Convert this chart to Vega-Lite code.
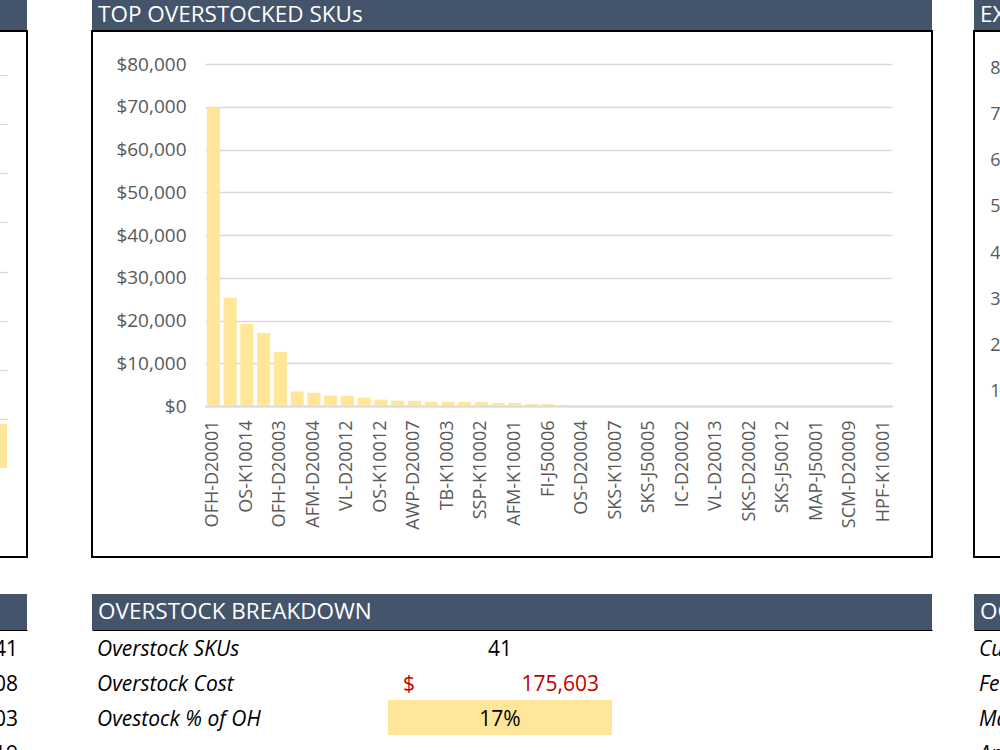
{
  "$schema": "https://vega.github.io/schema/vega-lite/v6.json",
  "background": "#FFFFFF",
  "padding": {"left": -174, "top": 0, "right": -72, "bottom": -20},
  "config": {
    "font": "Open Sans",
    "view": {"stroke": null},
    "axis": {"labelFont": "Open Sans", "labelFontSize": 18, "labelColor": "#595959", "title": null, "ticks": false, "tickSize": 0, "domain": false, "grid": false}
  },
  "spacing": 63,
  "hconcat": [
    {
      "spacing": 0,
      "vconcat": [
        {"width": 200, "height": 30, "view": {"fill": "#44546A", "stroke": null}, "data": {"values": []}, "mark": "text"},
        {
          "width": 200, "height": 526,
          "view": {"stroke": "#000000", "strokeWidth": 2},
          "data": {"values": [{"cat": "Q4", "units": 0.9}]},
          "mark": {"type": "bar", "color": "#FFE699"},
          "encoding": {
            "x": {"field": "cat", "type": "nominal", "axis": null, "scale": {"range": [160, 180], "paddingInner": 0, "paddingOuter": 0}},
            "y": {"field": "units", "type": "quantitative", "scale": {"domain": [0, 8], "range": [437, 44], "nice": false},
                  "axis": {"labels": false, "values": [1, 2, 3, 4, 5, 6, 7, 8], "grid": true, "gridColor": "#D9D9D9", "gridWidth": 1.3}}
          }
        },
        {"width": 200, "height": 36, "data": {"values": []}, "mark": "rect"},
        {"width": 200, "height": 36, "view": {"fill": "#44546A", "stroke": null}, "data": {"values": []}, "mark": "text"},
        {
          "width": 200, "height": 140,
          "data": {"values": [{"row": 1, "value": 241}, {"row": 2, "value": 1008}, {"row": 3, "value": 1003}, {"row": 4, "value": 19}]},
          "mark": {"type": "text", "align": "right", "baseline": "middle", "fontSize": 21, "color": "#000000", "dx": -9, "dy": 2},
          "encoding": {
            "x": {"datum": "value", "type": "nominal", "bandPosition": 1, "scale": {"type": "band", "domain": ["value"], "paddingInner": 0, "paddingOuter": 0},
                  "axis": {"orient": "top", "domain": true, "domainColor": "#000000", "domainWidth": 1, "labels": false}},
            "y": {"field": "row", "type": "ordinal", "scale": {"domain": [1, 2, 3, 4], "paddingInner": 0, "paddingOuter": 0}, "axis": null},
            "text": {"field": "value", "format": ","}
          }
        }
      ]
    },
    {
      "spacing": 40,
      "hconcat": [
        {
          "spacing": 0,
          "vconcat": [
            {
              "width": 840, "height": 30,
              "view": {"fill": "#44546A", "stroke": null},
              "data": {"values": [{"panel": "TOP OVERSTOCKED SKUs"}]},
              "mark": {"type": "text", "align": "left", "baseline": "middle", "dx": 6, "fontSize": 22.5, "color": "#FFFFFF"},
              "encoding": {
                "x": {"field": "panel", "type": "nominal", "bandPosition": 0, "axis": null, "scale": {"type": "band", "paddingInner": 0, "paddingOuter": 0}},
                "text": {"field": "panel"}
              }
            },
            {
              "width": 840, "height": 526,
              "view": {"stroke": "#000000", "strokeWidth": 2},
              "data": {"values": [
                {"sku": "OFH-D20001", "cost": 69850},
                {"sku": "OFH-D20002", "cost": 25300},
                {"sku": "OS-K10014", "cost": 19200},
                {"sku": "AFM-D20001", "cost": 17100},
                {"sku": "OFH-D20003", "cost": 12650},
                {"sku": "OS-K10003", "cost": 3400},
                {"sku": "AFM-D20004", "cost": 3100},
                {"sku": "VL-D20005", "cost": 2450},
                {"sku": "VL-D20012", "cost": 2400},
                {"sku": "TB-K10001", "cost": 1950},
                {"sku": "OS-K10012", "cost": 1500},
                {"sku": "SSP-K10004", "cost": 1250},
                {"sku": "AWP-D20007", "cost": 1200},
                {"sku": "FI-J50002", "cost": 950},
                {"sku": "TB-K10003", "cost": 950},
                {"sku": "AWP-D20003", "cost": 930},
                {"sku": "SSP-K10002", "cost": 900},
                {"sku": "OS-D20001", "cost": 720},
                {"sku": "AFM-K10001", "cost": 700},
                {"sku": "IC-D20005", "cost": 480},
                {"sku": "FI-J50006", "cost": 460},
                {"sku": "SKS-K10002", "cost": 260},
                {"sku": "OS-D20004", "cost": 230},
                {"sku": "MAP-J50003", "cost": 60},
                {"sku": "SKS-K10007", "cost": 45},
                {"sku": "VL-D20008", "cost": 38},
                {"sku": "SKS-J50005", "cost": 32},
                {"sku": "SCM-D20004", "cost": 28},
                {"sku": "IC-D20002", "cost": 24},
                {"sku": "HPF-K10004", "cost": 20},
                {"sku": "VL-D20013", "cost": 17},
                {"sku": "SKS-J50009", "cost": 14},
                {"sku": "SKS-D20002", "cost": 12},
                {"sku": "TB-K10006", "cost": 10},
                {"sku": "SKS-J50012", "cost": 8},
                {"sku": "FI-J50010", "cost": 6},
                {"sku": "MAP-J50001", "cost": 5},
                {"sku": "IC-D20007", "cost": 4},
                {"sku": "SCM-D20009", "cost": 3},
                {"sku": "OS-K10007", "cost": 2},
                {"sku": "HPF-K10001", "cost": 1}
              ]},
              "mark": {"type": "bar", "color": "#FFE699"},
              "encoding": {
                "x": {"field": "sku", "type": "nominal", "sort": null,
                      "scale": {"range": [113, 800], "paddingInner": 0.22, "paddingOuter": 0.11},
                      "axis": {"orient": "bottom", "offset": -151, "labelAngle": -90, "labelPadding": 14, "domain": true, "domainColor": "#D9D9D9", "domainWidth": 2,
                               "values": ["OFH-D20001", "OS-K10014", "OFH-D20003", "AFM-D20004", "VL-D20012", "OS-K10012", "AWP-D20007", "TB-K10003", "SSP-K10002", "AFM-K10001", "FI-J50006", "OS-D20004", "SKS-K10007", "SKS-J50005", "IC-D20002", "VL-D20013", "SKS-D20002", "SKS-J50012", "MAP-J50001", "SCM-D20009", "HPF-K10001"]}},
                "y": {"field": "cost", "type": "quantitative",
                      "scale": {"domain": [0, 80000], "range": [375, 33], "nice": false},
                      "axis": {"offset": -113, "labelPadding": 19, "labelFontSize": 19, "format": "$,.0f", "values": [0, 10000, 20000, 30000, 40000, 50000, 60000, 70000, 80000], "grid": true, "gridColor": "#D9D9D9", "gridWidth": 1.3}}
              }
            },
            {"width": 840, "height": 36, "data": {"values": []}, "mark": "rect"},
            {
              "width": 840, "height": 36,
              "view": {"fill": "#44546A", "stroke": null},
              "data": {"values": [{"panel": "OVERSTOCK BREAKDOWN"}]},
              "mark": {"type": "text", "align": "left", "baseline": "middle", "dx": 6, "fontSize": 22.5, "color": "#FFFFFF"},
              "encoding": {
                "x": {"field": "panel", "type": "nominal", "bandPosition": 0, "axis": null, "scale": {"type": "band", "paddingInner": 0, "paddingOuter": 0}},
                "text": {"field": "panel"}
              }
            },
            {
              "width": 840, "height": 140,
              "data": {"values": [
                {"row": 1, "metric": "Overstock SKUs", "value": 41},
                {"row": 2, "metric": "Overstock Cost", "value": 175603},
                {"row": 3, "metric": "Ovestock % of OH", "value": 0.17}
              ]},
              "encoding": {
                "y": {"field": "row", "type": "ordinal", "scale": {"domain": [1, 2, 3, 4], "paddingInner": 0, "paddingOuter": 0}, "axis": null}
              },
              "layer": [
                {
                  "transform": [{"filter": "datum.row == 3"}],
                  "mark": {"type": "bar", "color": "#FFE699"},
                  "encoding": {
                    "x": {"datum": "value", "type": "nominal",
                          "scale": {"type": "band", "domain": ["label", "value"], "paddingInner": 0, "paddingOuter": 0.875, "align": 0.18367},
                          "axis": {"orient": "top", "domain": true, "domainColor": "#000000", "domainWidth": 1, "labels": false}}
                  }
                },
                {
                  "mark": {"type": "text", "align": "left", "baseline": "middle", "fontSize": 21, "fontStyle": "italic", "color": "#000000", "dx": -67, "dy": 2},
                  "encoding": {
                    "x": {"datum": "label", "type": "nominal", "bandPosition": 0},
                    "text": {"field": "metric"}
                  }
                },
                {
                  "transform": [{"filter": "datum.row == 1"}],
                  "mark": {"type": "text", "align": "center", "baseline": "middle", "fontSize": 21, "color": "#000000", "dy": 2},
                  "encoding": {
                    "x": {"datum": "value", "type": "nominal", "bandPosition": 0.5},
                    "text": {"field": "value", "format": "d"}
                  }
                },
                {
                  "transform": [{"filter": "datum.row == 2"}],
                  "mark": {"type": "text", "align": "left", "baseline": "middle", "fontSize": 21, "color": "#C00000", "dx": 15, "dy": 2, "text": "$"},
                  "encoding": {
                    "x": {"datum": "value", "type": "nominal", "bandPosition": 0}
                  }
                },
                {
                  "transform": [{"filter": "datum.row == 2"}],
                  "mark": {"type": "text", "align": "right", "baseline": "middle", "fontSize": 21, "color": "#C00000", "dx": -13, "dy": 2},
                  "encoding": {
                    "x": {"datum": "value", "type": "nominal", "bandPosition": 1},
                    "text": {"field": "value", "format": ","}
                  }
                },
                {
                  "transform": [{"filter": "datum.row == 3"}],
                  "mark": {"type": "text", "align": "center", "baseline": "middle", "fontSize": 21, "color": "#000000", "dy": 2},
                  "encoding": {
                    "x": {"datum": "value", "type": "nominal", "bandPosition": 0.5},
                    "text": {"field": "value", "format": ".0%"}
                  }
                }
              ]
            }
          ]
        },
        {
          "spacing": 0,
          "vconcat": [
            {
              "width": 100, "height": 30,
              "view": {"fill": "#44546A", "stroke": null},
              "data": {"values": [{"panel": "EXCESS INVENTORY"}]},
              "mark": {"type": "text", "align": "left", "baseline": "middle", "dx": 6, "fontSize": 22.5, "color": "#FFFFFF"},
              "encoding": {
                "x": {"field": "panel", "type": "nominal", "bandPosition": 0, "axis": null, "scale": {"type": "band", "paddingInner": 0, "paddingOuter": 0}},
                "text": {"field": "panel"}
              }
            },
            {
              "width": 100, "height": 526,
              "view": {"stroke": "#000000", "strokeWidth": 2},
              "data": {"values": []},
              "mark": {"type": "bar", "color": "#FFE699"},
              "encoding": {
                "y": {"field": "count", "type": "quantitative",
                      "scale": {"domain": [0, 8], "range": [407, 37], "nice": false},
                      "axis": {"offset": -45, "labelPadding": 19, "values": [1, 2, 3, 4, 5, 6, 7, 8]}}
              }
            },
            {"width": 100, "height": 36, "data": {"values": []}, "mark": "rect"},
            {
              "width": 100, "height": 36,
              "view": {"fill": "#44546A", "stroke": null},
              "data": {"values": [{"panel": "OCCURRENCES"}]},
              "mark": {"type": "text", "align": "left", "baseline": "middle", "dx": 6, "fontSize": 22.5, "color": "#FFFFFF"},
              "encoding": {
                "x": {"field": "panel", "type": "nominal", "bandPosition": 0, "axis": null, "scale": {"type": "band", "paddingInner": 0, "paddingOuter": 0}},
                "text": {"field": "panel"}
              }
            },
            {
              "width": 100, "height": 140,
              "data": {"values": [{"row": 1, "period": "Current Month"}, {"row": 2, "period": "February"}, {"row": 3, "period": "March"}, {"row": 4, "period": "April"}]},
              "mark": {"type": "text", "align": "left", "baseline": "middle", "fontSize": 21, "fontStyle": "italic", "color": "#000000", "dx": 5, "dy": 2},
              "encoding": {
                "x": {"datum": "label", "type": "nominal", "bandPosition": 0, "scale": {"type": "band", "domain": ["label"], "paddingInner": 0, "paddingOuter": 0},
                      "axis": {"orient": "top", "domain": true, "domainColor": "#000000", "domainWidth": 1, "labels": false}},
                "y": {"field": "row", "type": "ordinal", "scale": {"domain": [1, 2, 3, 4], "paddingInner": 0, "paddingOuter": 0}, "axis": null},
                "text": {"field": "period"}
              }
            }
          ]
        }
      ]
    }
  ]
}
